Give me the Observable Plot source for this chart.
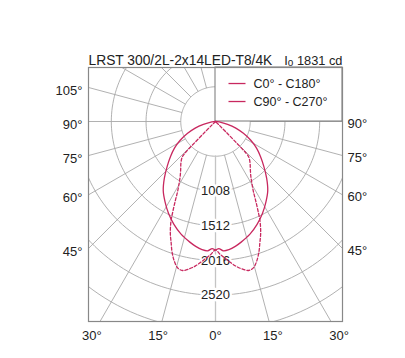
<!DOCTYPE html>
<html>
<head>
<meta charset="utf-8">
<script src="https://cdn.jsdelivr.net/npm/d3@7"></script>
<script src="https://cdn.jsdelivr.net/npm/@observablehq/plot@0.6"></script>
<style>
  html, body { margin: 0; padding: 0; background: white; }
  #chart svg { display: block; }
</style>
</head>
<body>
<div id="chart"></div>
<script>
// ---- data ----
const titleText = "LRST 300/2L-2x14LED-T8/4K";
const i0Value = 1831;
const seriesNames = ["C0° - C180°", "C90° - C270°"];

// C0-C180 plane (solid): gamma angle (deg) -> intensity (cd)
const solidAngles = [0, 1.5, 3.5, 6, 9, 12, 17, 22, 27, 32, 37, 42, 47, 52, 57, 62, 67, 72, 77, 82, 86, 90];
const solidValues = [1865, 1845, 1880, 1870, 1835, 1790, 1710, 1610, 1500, 1380, 1260, 1110, 960, 830, 710, 580, 440, 310, 180, 80, 25, 0];

// C90-C270 plane (dashed)
const dashedAngles = [0, 2, 4, 6, 8, 10, 12.5, 14.5, 16.5, 18.5, 20, 22, 24, 25.5, 27, 28.5, 30.5, 33, 36, 40, 43, 44, 44.5, 45, 45.5, 46];
const dashedValues = [1865, 1930, 1990, 2055, 2120, 2170, 2215, 2195, 2110, 1990, 1880, 1750, 1590, 1430, 1280, 1150, 1040, 940, 860, 780, 710, 640, 420, 200, 60, 0];

// grid
const ringValues = [504, 1008, 1512, 2016, 2520, 3024, 3528];
const ringLabels = [1008, 1512, 2016, 2520];
const spokeAngles = d3.range(0, 360, 15);
const leftAngleLabels = [105, 90, 75, 60, 45];
const rightAngleLabels = [90, 75, 60, 45];
const bottomAngleLabels = [-30, -15, 0, 15, 30];

// ---- layout ----
const W = 405, H = 358;
const mL = 88, mR = 63, mT = 67, mB = 37;
const xMax = 1843;             // cd at frame edge (left/right)
const yTop = 784, yBottom = -2903;
const cdPerPx = (2 * xMax) / (W - mL - mR);
const lineColor = "#c8285f";
const gridColor = "#a8a8a8";
const rad = d => d * Math.PI / 180;

function toXY(a, v) { return {x: v * Math.sin(rad(a)), y: -v * Math.cos(rad(a))}; }
function mirrored(angles, values, name) {
  const pts = [];
  for (let i = angles.length - 1; i >= 0; i--) pts.push({...toXY(-angles[i], values[i]), s: name});
  for (let i = 1; i < angles.length; i++) pts.push({...toXY(angles[i], values[i]), s: name});
  return pts;
}
const solidPts = mirrored(solidAngles, solidValues, seriesNames[0]);
const dashedPts = mirrored(dashedAngles, dashedValues, seriesNames[1]);

const ringPts = ringValues.flatMap(v => d3.range(0, 361, 2).map(a => ({...toXY(a, v), ring: v})));
const spokes = spokeAngles.map(a => ({a, p1: toXY(a, ringValues[0]), p2: toXY(a, 6000)}));

const legendRows = seriesNames.map((name, i) => ({
  name, dash: i === 1,
  y: (i === 0 ? 38 : 20) * cdPerPx
}));

const chart = Plot.plot({
  width: W, height: H,
  marginLeft: mL, marginRight: mR, marginTop: mT, marginBottom: mB,
  x: {domain: [-xMax, xMax], axis: null},
  y: {domain: [yBottom, yTop], axis: null},
  style: {fontFamily: "'Liberation Sans', Arial, sans-serif", fontSize: "13px", color: "#222", background: "white"},
  marks: [
    Plot.line(ringPts, {x: "x", y: "y", z: "ring", stroke: gridColor, strokeWidth: 0.9, clip: true}),
    Plot.link(spokes, {x1: d => d.p1.x, y1: d => d.p1.y, x2: d => d.p2.x, y2: d => d.p2.y, stroke: gridColor, strokeWidth: 0.9, clip: true}),
    Plot.ruleX([0], {y1: -ringValues[0], y2: yBottom, stroke: "#c4c4c4", strokeWidth: 1.3}),
    Plot.rect([0], {x1: 0, x2: xMax, y1: 0, y2: yTop, fill: "white", stroke: "#777", strokeWidth: 1}),
    Plot.text(ringLabels, {x: 0, y: d => -d, text: d => String(d), fill: "#222", stroke: "white", strokeWidth: 5, fontSize: 13}),
    Plot.line(solidPts, {x: "x", y: "y", stroke: lineColor, strokeWidth: 1.3, curve: "catmull-rom"}),
    Plot.line(dashedPts, {x: "x", y: "y", stroke: lineColor, strokeWidth: 1.3, strokeDasharray: "3,2", curve: "catmull-rom"}),
    Plot.frame({stroke: "#888", strokeWidth: 1.2}),
    // angle labels
    Plot.text(leftAngleLabels, {x: -xMax, y: a => -xMax * Math.cos(rad(a)) / Math.sin(rad(a)), text: a => a + "°", textAnchor: "end", dx: -6, dy: 3, fill: "#222", fontSize: 13}),
    Plot.text(rightAngleLabels, {x: xMax, y: a => -xMax * Math.cos(rad(a)) / Math.sin(rad(a)), text: a => a + "°", textAnchor: "start", dx: 5, dy: 2, fill: "#222", fontSize: 13}),
    Plot.text(bottomAngleLabels, {x: a => Math.tan(rad(a)) * (-yBottom + 14 * cdPerPx), y: yBottom - 14 * cdPerPx, text: a => Math.abs(a) + "°", fill: "#222", fontSize: 13}),
    // legend
    Plot.link(legendRows, {x1: 13 * cdPerPx, x2: 30 * cdPerPx, y1: "y", y2: "y", stroke: lineColor, strokeWidth: 1.3, strokeDasharray: d => d.dash ? "2,1.5" : null}),
    Plot.text(legendRows, {x: 38 * cdPerPx, y: "y", text: "name", textAnchor: "start", fill: "#222", fontSize: 12.5}),
    // title
    Plot.text([titleText], {frameAnchor: "top-left", textAnchor: "start", dy: -12, fontSize: 13.8, fill: "#222"}),
    Plot.text([i0Value], {frameAnchor: "top-right", textAnchor: "end", dy: -12, fontSize: 12.8, fill: "#222", text: d => "I_o " + d + " cd"})
  ]
});
document.getElementById("chart").appendChild(chart);

// render the I0 label with a small "o"
d3.select(chart).selectAll("text").each(function() {
  const t = d3.select(this);
  if (t.text().startsWith("I_o")) {
    const rest = t.text().slice(3);
    t.text("I");
    t.append("tspan").attr("font-size", "10px").attr("dy", "1").text("o");
    t.append("tspan").attr("dy", "-1").text(rest);
  }
});
</script>
</body>
</html>
